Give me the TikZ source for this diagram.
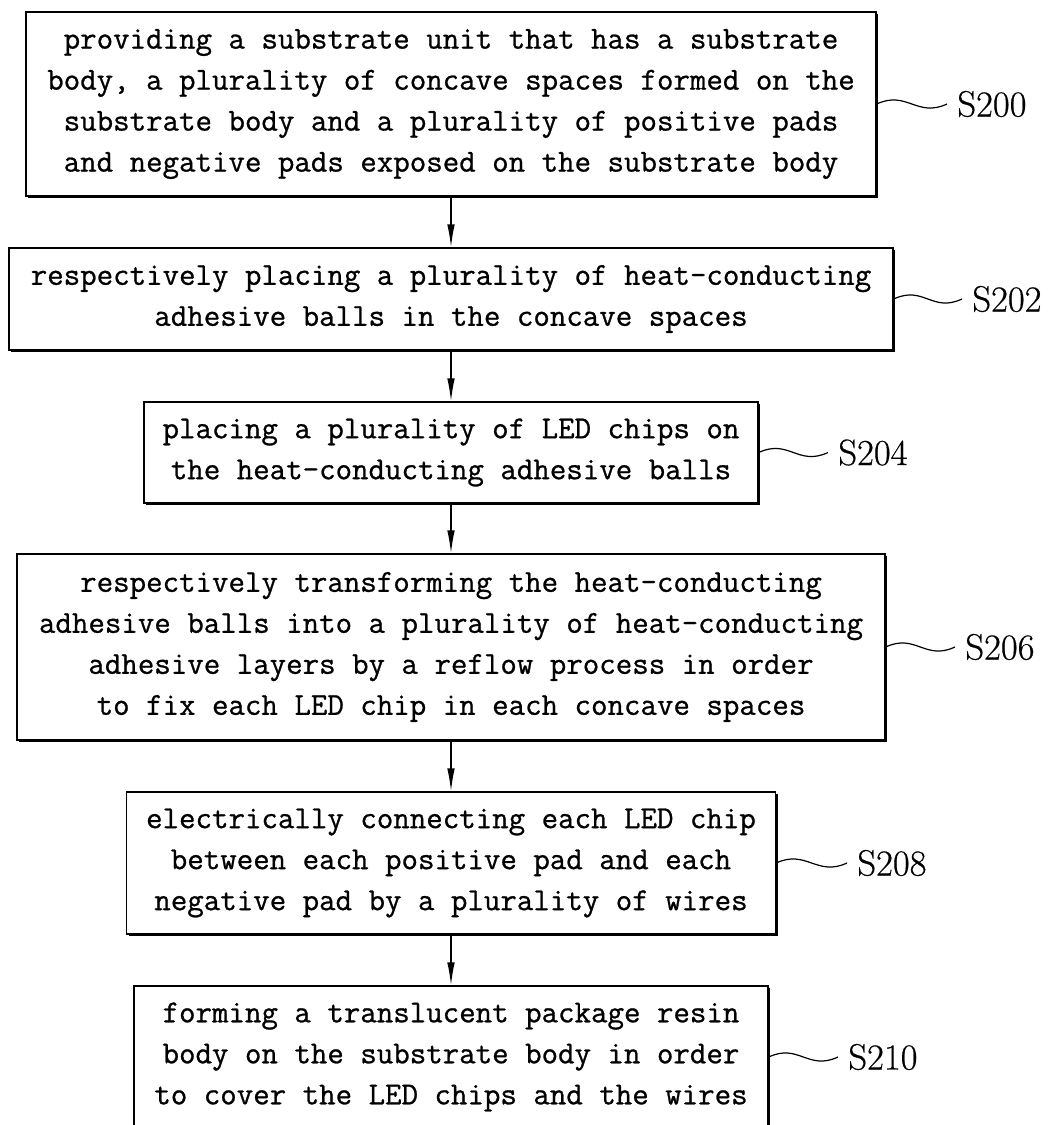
\documentclass[tikz,border=0pt]{standalone}
\usepackage{fontspec}
\usetikzlibrary{arrows.meta,shadows}
\newfontfamily\boxfont{Latin Modern Mono}[FakeBold=0.8]
\newfontfamily\numfont{Latin Modern Roman}[FakeBold=0.5]

\begin{document}
\begin{tikzpicture}[
    x=0.5pt, y=-0.5pt,
    stepbox/.style={rectangle, draw, fill=white, line width=0.7pt, align=center,
        font=\boxfont\fontsize{16pt}{20.5pt}\selectfont,
        drop shadow={shadow xshift=1pt, shadow yshift=-1pt, fill=black, opacity=1}},
    steplabel/.style={anchor=west, inner xsep=5pt, inner ysep=0pt,
        font=\numfont\fontsize{18.3pt}{22pt}\selectfont},
    arrow/.style={-{Latex[length=11.5pt, width=3.8pt]}, line width=0.7pt},
    wave/.style={line width=0.6pt}
]
\useasboundingbox (0,0) rectangle (1052,1125);

% step boxes
\node[stepbox, minimum width=425pt, minimum height=92pt] (s200) at (451,104)
    {providing a substrate unit that has a substrate\\
     body, a plurality of concave spaces formed on the\\
     substrate body and a plurality of positive pads\\
     and negative pads exposed on the substrate body};
\node[stepbox, minimum width=442pt, minimum height=51pt] (s202) at (451,299)
    {respectively placing a plurality of heat-conducting\\
     adhesive balls in the concave spaces};
\node[stepbox, minimum width=307pt, minimum height=50.5pt] (s204) at (451,452.5)
    {placing a plurality of LED chips on\\
     the heat-conducting adhesive balls};
\node[stepbox, minimum width=434pt, minimum height=93pt] (s206) at (451,647)
    {respectively transforming the heat-conducting\\
     adhesive balls into a plurality of heat-conducting\\
     adhesive layers by a reflow process in order\\
     to fix each LED chip in each concave spaces};
\node[stepbox, minimum width=324.5pt, minimum height=71pt] (s208) at (451,863)
    {electrically connecting each LED chip\\
     between each positive pad and each\\
     negative pad by a plurality of wires};
\node[stepbox, minimum width=317pt, minimum height=71pt] (s210) at (451,1057)
    {forming a translucent package resin\\
     body on the substrate body in order\\
     to cover the LED chips and the wires};

% step labels
\node[steplabel] (l200) at (947,104) {S200};
\node[steplabel] (l202) at (962,299) {S202};
\node[steplabel] (l204) at (828,452.5) {S204};
\node[steplabel] (l206) at (955,647) {S206};
\node[steplabel] (l208) at (847,863) {S208};
\node[steplabel] (l210) at (838,1057) {S210};

% arrows
\draw[arrow] (s200.south) -- (s202.north);
\draw[arrow] (s202.south) -- (s204.north);
\draw[arrow] (s204.south) -- (s206.north);
\draw[arrow] (s206.south) -- (s208.north);
\draw[arrow] (s208.south) -- (s210.north);

% wavy leaders
\foreach \n in {200,202,204,206,208,210}
    \draw[wave] (s\n.east) .. controls +(30,-14) and +(-30,14) .. (l\n.west);

\end{tikzpicture}
\end{document}
